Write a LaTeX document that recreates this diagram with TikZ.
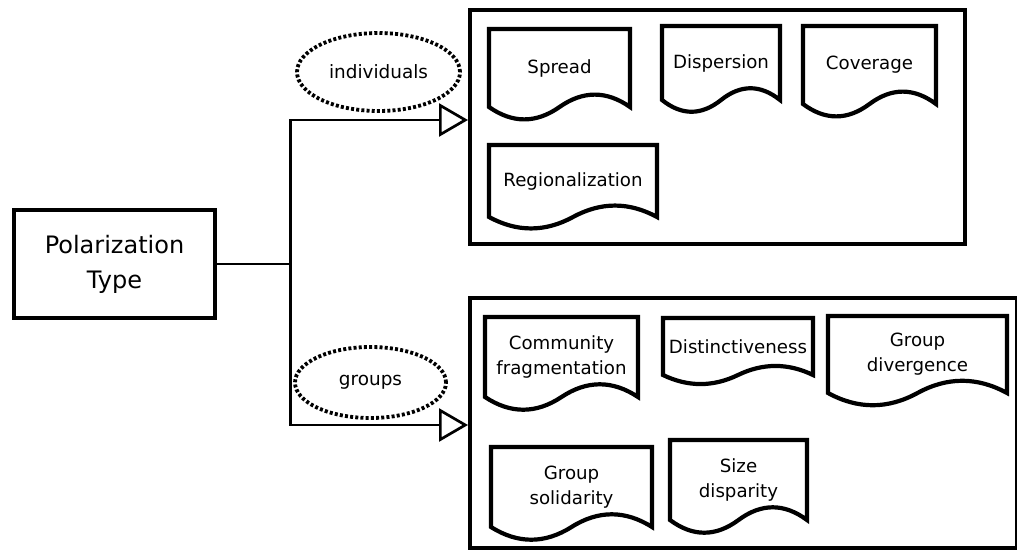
\documentclass[tikz,border=0pt]{standalone}
\usepackage{fontspec}
\setmainfont{DejaVu Sans}
\usetikzlibrary{shapes.geometric,arrows.meta,positioning,calc}

\begin{document}
\begin{tikzpicture}[
    x=1pt, y=-1pt,
    typebox/.style={rectangle, draw=black, line width=4.5pt, minimum width=201pt, minimum height=108pt, align=center, font=\fontsize{24}{35}\selectfont},
    panel/.style={rectangle, draw=black, line width=4pt},
    doc/.style={rectangle, outer sep=0pt, inner sep=0pt, align=center, anchor=north west, font=\fontsize{18.2}{25}\selectfont},
    docline/.style={draw=black, line width=4.2pt, line join=miter},
    kind/.style={ellipse, draw=black, line width=3.8pt, dash pattern=on 3pt off 2.2pt, font=\fontsize{18.4}{22}\selectfont},
    link/.style={draw=black, line width=2.7pt},
    arrow/.style={link, -{Triangle[open, length=29pt, width=33pt]}}
]
\useasboundingbox (0,0) rectangle (1017,549);

% Source and panels
\node[typebox] (poltype) at (114.5,264) {Polarization\\Type};
\node[panel, minimum width=495pt, minimum height=234pt] (indivbox) at (717.5,127) {};
\node[panel, minimum width=547pt, minimum height=250pt] (groupbox) at (743.5,423) {};

% Measures for individuals
\node[doc, minimum width=141pt, minimum height=78pt] (spread) at (489,29) {Spread};
\node[doc, minimum width=118pt, minimum height=74pt, above right=3pt and 32pt of spread.north east, anchor=north west] (dispersion) {Dispersion};
\node[doc, minimum width=133pt, minimum height=78pt, right=23pt of dispersion.north east, anchor=north west] (coverage) {Coverage};
\node[doc, minimum width=168pt, minimum height=72pt, below=38pt of spread.south west, anchor=north west] (regional) {Regionalization};

% Measures for groups
\node[doc, minimum width=153pt, minimum height=80pt] (community) at (485,317) {Community\\fragmentation};
\node[doc, minimum width=150pt, minimum height=57pt, below right=1pt and 25pt of community.north east, anchor=north west] (distinct) {Distinctiveness};
\node[doc, minimum width=179pt, minimum height=77pt, above right=2pt and 15pt of distinct.north east, anchor=north west] (groupdiv) {Group\\divergence};
\node[doc, minimum width=161pt, minimum height=80pt, below right=50pt and 6pt of community.south west, anchor=north west] (groupsol) {Group\\solidarity};
\node[doc, minimum width=137pt, minimum height=80pt, above right=7pt and 18pt of groupsol.north east, anchor=north west] (sizedisp) {Size\\disparity};

% Document outlines with wavy bottom
\foreach \m in {spread,dispersion,coverage,regional,community,distinct,groupdiv,groupsol,sizedisp}
  \draw[docline] let \p1=(\m.south west), \p2=(\m.north east), \n1={\x2-\x1}, \n2={0.2118*(\y2-\y1)} in
    (\x1,\y1) -- (\x1,\y2) -- (\x2,\y2) -- (\x2,\y1)
    .. controls (\x2-\n1/6,\y1+\n2) and (\x2-\n1/3,\y1+\n2) .. (\x1+\n1/2,\y1)
    .. controls (\x1+\n1/3,\y1-\n2) and (\x1+\n1/6,\y1-\n2) .. (\x1,\y1) -- cycle;

% Branch labels
\node[kind, minimum width=163pt, minimum height=78pt] (individuals) at (378.5,72) {individuals};
\node[kind, minimum width=151pt, minimum height=71pt] (groups) at (370.5,382.5) {groups};

% Connectors
\coordinate[right=73pt of poltype.east] (fork);
\draw[link] (poltype.east) -- (fork);
\draw[arrow] (fork) |- ([yshift=7pt]indivbox.west);
\draw[arrow] (fork) |- ([yshift=-2pt]groupbox.west);

\end{tikzpicture}
\end{document}
